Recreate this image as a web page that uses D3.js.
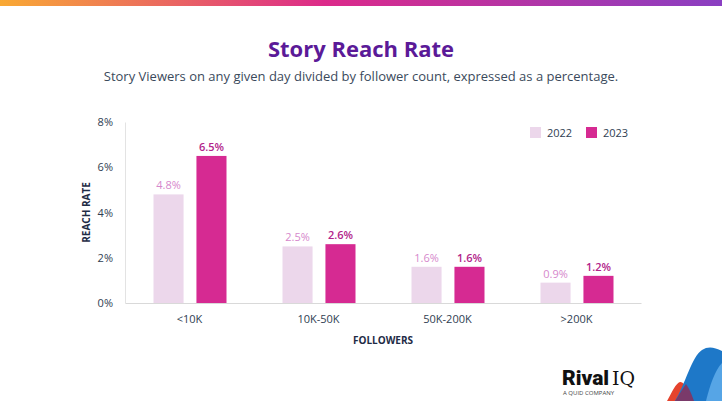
<!DOCTYPE html>
<html>
<head>
<meta charset="utf-8">
<script src="https://cdn.jsdelivr.net/npm/d3@7"></script>
<style>
  body { margin: 0; background: #fff; }
  svg { display: block; font-family: "Open Sans", sans-serif; }
</style>
</head>
<body>
<div id="chart"></div>
<script>
var categories = ["<10K", "10K-50K", "50K-200K", ">200K"];
var years = ["2022", "2023"];
var values2022 = [4.8, 2.5, 1.6, 0.9];
var values2023 = [6.5, 2.6, 1.6, 1.2];
var yTicks = [0, 2, 4, 6, 8];

var svgWidth = 722, svgHeight = 401;
var margin = { top: 122, right: 81, bottom: 98, left: 125 };
var width = svgWidth - margin.left - margin.right;
var height = svgHeight - margin.top - margin.bottom;

var colors = { "2022": "#ecd7eb", "2023": "#d62a92" };
var labelColors = { "2022": "#d688cc", "2023": "#b2238a" };

var svg = d3.select("#chart").append("svg")
  .attr("width", svgWidth)
  .attr("height", svgHeight);

// top gradient strip
var defs = svg.append("defs");
var grad = defs.append("linearGradient").attr("id", "topbar");
grad.append("stop").attr("offset", "0%").attr("stop-color", "#f9a934");
grad.append("stop").attr("offset", "45%").attr("stop-color", "#dc2a8a");
grad.append("stop").attr("offset", "100%").attr("stop-color", "#8a3fc2");
svg.append("rect").attr("x", 0).attr("y", 0).attr("width", svgWidth).attr("height", 6)
  .attr("fill", "url(#topbar)");

// titles
svg.append("text")
  .attr("x", 361).attr("y", 57)
  .attr("text-anchor", "middle")
  .attr("font-size", "22px").attr("font-weight", "bold")
  .attr("fill", "#5b1a98")
  .text("Story Reach Rate");

svg.append("text")
  .attr("x", 361).attr("y", 81)
  .attr("text-anchor", "middle")
  .attr("font-size", "13px")
  .attr("fill", "#3b4a5c")
  .text("Story Viewers on any given day divided by follower count, expressed as a percentage.");

var chartGroup = svg.append("g")
  .attr("transform", `translate(${margin.left}, ${margin.top})`);

var x0 = d3.scaleBand().domain(categories).range([0, width]);
var x1 = d3.scaleBand().domain(years).range([0, 73]).paddingInner(0.3);
var y = d3.scaleLinear().domain([0, 8]).range([height, 0]);

// axes
var xAxis = d3.axisBottom(x0).tickSize(0).tickPadding(12);
var yAxis = d3.axisLeft(y).tickValues(yTicks).tickSize(0).tickPadding(12)
  .tickFormat(d => d + "%");

var gx = chartGroup.append("g")
  .attr("transform", `translate(0, ${height})`)
  .call(xAxis);
gx.select(".domain").attr("stroke", "#d9d9d9");
gx.selectAll("text").attr("font-size", "11px").attr("fill", "#2f3e52")
  .attr("font-family", "Open Sans, sans-serif");

var gy = chartGroup.append("g").call(yAxis);
gy.select(".domain").attr("stroke", "#e3e3e3");
gy.selectAll("text").attr("font-size", "11px").attr("fill", "#2f3e52")
  .attr("font-family", "Open Sans, sans-serif");

// bars
var rows = categories.map((c, i) => ({ cat: c, vals: [
  { year: "2022", v: values2022[i] },
  { year: "2023", v: values2023[i] }
]}));

var groups = chartGroup.selectAll(".grp")
  .data(rows)
  .enter().append("g")
  .attr("transform", d => `translate(${x0(d.cat) + x0.bandwidth() / 2 - 36}, 0)`);

groups.selectAll("rect")
  .data(d => d.vals)
  .enter().append("rect")
  .attr("x", d => x1(d.year))
  .attr("y", d => y(d.v))
  .attr("width", x1.bandwidth())
  .attr("height", d => height - y(d.v))
  .attr("fill", d => colors[d.year]);

groups.selectAll(".lbl")
  .data(d => d.vals)
  .enter().append("text")
  .attr("x", d => x1(d.year) + x1.bandwidth() / 2)
  .attr("y", d => y(d.v) - 5)
  .attr("text-anchor", "middle")
  .attr("font-size", "11px")
  .attr("font-weight", d => d.year === "2023" ? "600" : "normal")
  .attr("fill", d => labelColors[d.year])
  .text(d => d.v.toFixed(1) + "%");

// legend
var legend = svg.append("g").attr("transform", "translate(530, 127)");
years.forEach(function(yr, i) {
  var lg = legend.append("g").attr("transform", `translate(${i * 56}, 0)`);
  lg.append("rect").attr("width", 11).attr("height", 11).attr("fill", colors[yr]);
  lg.append("text").attr("x", 17).attr("y", 10)
    .attr("font-size", "11px").attr("fill", "#2f3e52").text(yr);
});

// axis titles
chartGroup.append("text")
  .attr("transform", "rotate(-90)")
  .attr("x", -height / 2)
  .attr("y", -35)
  .attr("text-anchor", "middle")
  .attr("font-size", "10px").attr("font-weight", "bold")
  .attr("fill", "#1e2b45")
  .text("REACH RATE");

chartGroup.append("text")
  .attr("x", width / 2)
  .attr("y", height + 41)
  .attr("text-anchor", "middle")
  .attr("font-size", "10px").attr("font-weight", "bold")
  .attr("fill", "#1e2b45")
  .text("FOLLOWERS");

// logo
svg.append("text").attr("x", 562).attr("y", 385)
  .attr("font-family", "Roboto, sans-serif")
  .attr("font-size", "21px").attr("fill", "#111")
  .html('<tspan font-weight="900">Rival</tspan><tspan font-family="DejaVu Serif, serif" font-weight="normal" font-size="19px" dx="3">IQ</tspan>');
svg.append("text").attr("x", 563).attr("y", 395)
  .attr("font-size", "6px").attr("fill", "#444")
  .text("A QUID COMPANY");

// corner decoration
svg.append("path")
  .attr("d", "M667,401 C672,392 676,383 680,382 C684,381 690,392 694,401 Z")
  .attr("fill", "#e5432d");
svg.append("path")
  .attr("d", "M675,401 C685,385 692,356 702,350 C708,346 714,347 722,351 L722,401 Z")
  .attr("fill", "#1e78c8");
svg.append("path")
  .attr("d", "M706,401 C710,385 715,370 722,363 L722,401 Z")
  .attr("fill", "#56a5e6");
svg.append("path")
  .attr("d", "M675,401 C679,395 683,388 686,384 C689,388 692,395 694,401 Z")
  .attr("fill", "#7a3a6a");
</script>
</body>
</html>
